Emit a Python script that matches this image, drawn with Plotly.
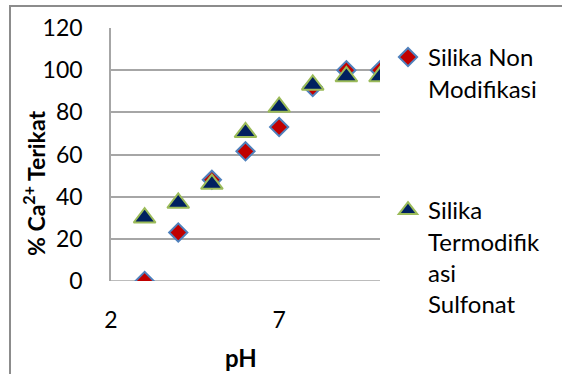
import plotly.graph_objects as go

ph = [3, 4, 5, 6, 7, 8, 9, 10]
non_mod = [0, 23, 48, 61.5, 73, 92, 100, 100]
sulfonat = [30, 37, 46, 70.5, 82.5, 93, 97, 97]

x_ticks = [2, 7]
y_ticks = [0, 20, 40, 60, 80, 100, 120]

FONT = "Lato"
L, R, T, B = 111, 182, 28, 93
PW, PH = 562 - L - R, 374 - T - B

def px_x(p):
    return (p - L) / PW

def px_y(q):
    return (374 - B - q) / PH

fig = go.Figure()
fig.add_trace(go.Scatter(
    x=ph, y=non_mod, mode="markers", name="Silika Non<br>Modifikasi",
    legend="legend",
    marker=dict(symbol="diamond", size=14, color="#C00000",
                line=dict(color="#4F81BD", width=2)),
))
fig.add_trace(go.Scatter(
    x=ph, y=sulfonat, mode="markers", name="Silika<br>Termodifik<br>asi<br>Sulfonat",
    legend="legend2",
    marker=dict(symbol="triangle-up", size=19, color="#002060",
                line=dict(color="#9BBB59", width=2)),
))

leg_common = dict(xanchor="left", yanchor="top", valign="top",
                  bgcolor="rgba(0,0,0,0)", font=dict(family=FONT, size=24))

fig.update_layout(
    width=562, height=374,
    margin=dict(l=L, r=R, t=T, b=B),
    paper_bgcolor="white", plot_bgcolor="white",
    font=dict(family=FONT, size=23, color="#000000"),
    showlegend=True,
    legend=dict(x=px_x(388), y=px_y(35), **leg_common),
    legend2=dict(x=px_x(388), y=px_y(188), **leg_common),
    xaxis=dict(range=[2, 10], tickvals=x_ticks, ticktext=[str(v) for v in x_ticks],
               showgrid=False, zeroline=False, showline=False, ticks="",
               ticklabelstandoff=23, tickfont=dict(family=FONT, size=23)),
    yaxis=dict(range=[0, 120], tickvals=y_ticks, ticktext=[str(v) for v in y_ticks],
               showgrid=True, gridcolor="#a6a6a6", gridwidth=1.5,
               zeroline=False, showline=True, linecolor="#a6a6a6", linewidth=1.5,
               ticks="outside", ticklen=22, tickcolor="rgba(0,0,0,0)",
               tickfont=dict(family=FONT, size=23)),
)

# bottom gridline at 0 (x axis line)
fig.add_shape(type="line", xref="paper", yref="y", x0=0, x1=1, y0=0, y1=0,
              line=dict(color="#a6a6a6", width=1.5), layer="below")

# chart border
fig.add_shape(type="rect", xref="paper", yref="paper",
              x0=px_x(10), x1=px_x(575), y0=px_y(385), y1=px_y(6),
              line=dict(color="#8c8c8c", width=2))

fig.add_annotation(text="<b>% Ca<sup>2+</sup> Terikat</b>", xref="paper", yref="paper",
                   x=px_x(34), y=px_y(184), xanchor="center", yanchor="middle",
                   textangle=-90, showarrow=False,
                   font=dict(family=FONT, size=23))
fig.add_annotation(text="<b>pH</b>", xref="paper", yref="paper",
                   x=px_x(241), y=px_y(357), xanchor="center", yanchor="middle",
                   showarrow=False,
                   font=dict(family=FONT, size=24))

fig.write_html("out.html")
